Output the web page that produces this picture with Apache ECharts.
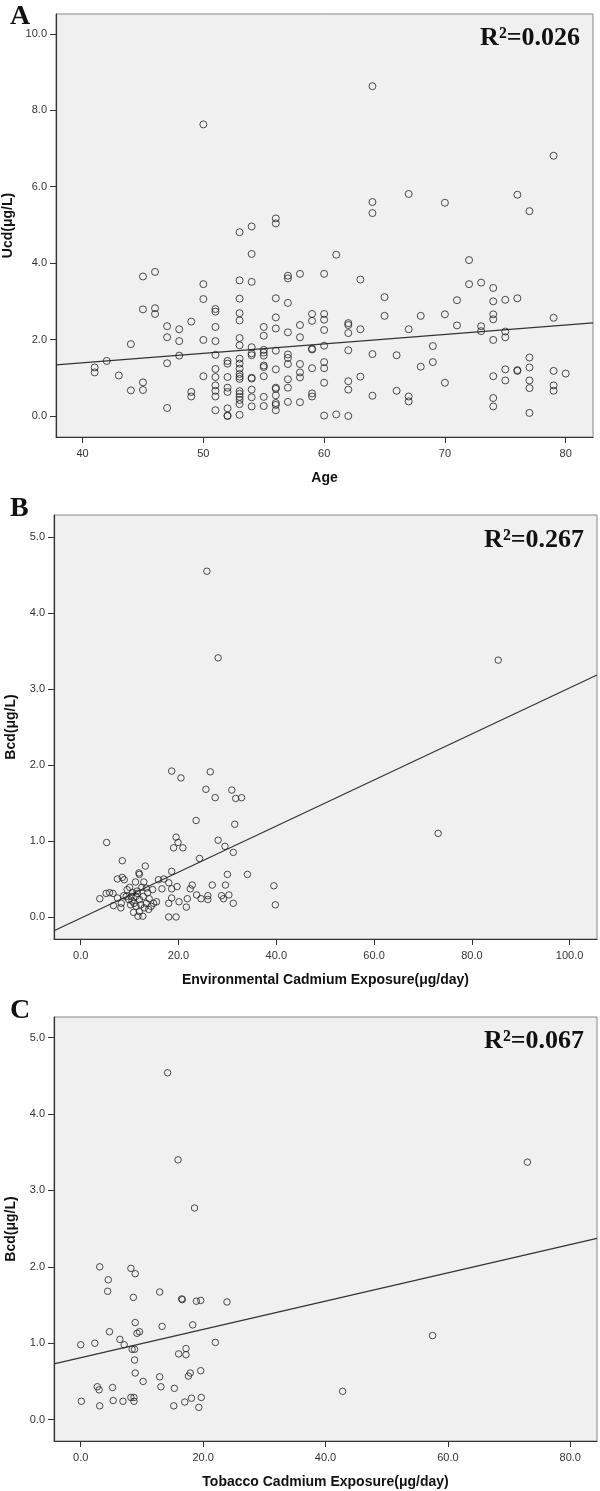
<!DOCTYPE html>
<html>
<head>
<meta charset="utf-8">
<script src="https://cdn.jsdelivr.net/npm/echarts@6/dist/echarts.min.js"></script>
<style>
  html, body { margin: 0; padding: 0; background: #fff; }
  #chart { width: 600px; height: 1491px; }
</style>
</head>
<body>
<div id="chart"></div>
<script>
// panel A: age vs urinary cadmium
const pointsA = [
  [41, 1.27], [41, 1.14], [42, 1.44], [43, 1.06], [44, 1.88], [44, 0.67],
  [45, 3.65], [45, 2.79], [45, 0.88], [45, 0.68],
  [46, 3.77], [46, 2.82], [46, 2.67],
  [47, 2.35], [47, 2.06], [47, 1.38], [47, 0.21],
  [48, 2.27], [48, 1.96], [48, 1.58],
  [49, 2.47], [49, 0.63], [49, 0.51],
  [50, 7.63], [50, 3.45], [50, 3.06], [50, 1.99], [50, 1.04],
  [51, 2.80], [51, 2.73], [51, 2.33], [51, 1.96], [51, 1.60], [51, 1.23], [51, 1.02], [51, 0.80], [51, 0.66], [51, 0.51], [51, 0.15],
  [52, 1.44], [52, 1.37], [52, 1.02], [52, 0.74], [52, 0.63], [52, 0.20], [52, 0.01], [52, 0.0],
  [53, 4.81], [53, 3.55], [53, 3.07], [53, 2.69], [53, 2.50], [53, 2.04], [53, 1.85], [53, 1.50], [53, 1.37], [53, 1.24],
  [53, 1.10], [53, 1.03], [53, 0.97], [53, 0.65], [53, 0.58], [53, 0.50], [53, 0.42], [53, 0.31], [53, 0.03],
  [54, 4.96], [54, 4.24], [54, 3.51], [54, 1.80], [54, 1.64], [54, 1.59], [54, 1.00], [54, 0.98], [54, 0.69], [54, 0.49], [54, 0.25],
  [55, 2.33], [55, 2.10], [55, 1.73], [55, 1.66], [55, 1.58], [55, 1.32], [55, 1.28], [55, 1.04], [55, 0.50], [55, 0.26],
  [56, 5.17], [56, 5.04], [56, 3.08], [56, 2.58], [56, 2.29], [56, 1.71], [56, 1.22], [56, 0.74], [56, 0.71], [56, 0.54], [56, 0.34], [56, 0.29], [56, 0.15],
  [57, 3.67], [57, 3.60], [57, 2.96], [57, 2.19], [57, 1.61], [57, 1.52], [57, 1.36], [57, 0.96], [57, 0.74], [57, 0.37],
  [58, 3.72], [58, 2.38], [58, 2.06], [58, 1.36], [58, 1.14], [58, 1.01], [58, 0.36],
  [59, 2.67], [59, 2.49], [59, 1.76], [59, 1.74], [59, 1.25], [59, 0.59], [59, 0.51],
  [60, 3.72], [60, 2.67], [60, 2.52], [60, 2.25], [60, 1.84], [60, 1.41], [60, 1.25], [60, 0.87], [60, 0.01],
  [61, 4.22], [61, 0.04],
  [62, 2.43], [62, 2.38], [62, 2.17], [62, 1.72], [62, 0.91], [62, 0.69], [62, 0.0],
  [63, 3.57], [63, 2.27], [63, 1.03],
  [64, 8.63], [64, 5.60], [64, 5.31], [64, 1.62], [64, 0.53],
  [65, 3.11], [65, 2.62], [66, 1.59], [66, 0.66],
  [67, 5.81], [67, 2.27], [67, 0.51], [67, 0.38],
  [68, 2.62], [68, 1.29], [69, 1.83], [69, 1.41],
  [70, 5.58], [70, 2.66], [70, 0.87], [71, 3.03], [71, 2.37], [72, 4.08], [72, 3.45],
  [73, 3.49], [73, 2.35], [73, 2.22],
  [74, 3.35], [74, 3.00], [74, 2.66], [74, 2.53], [74, 1.99], [74, 1.04], [74, 0.47], [74, 0.25],
  [75, 3.04], [75, 2.21], [75, 2.06], [75, 1.22], [75, 0.93],
  [76, 5.79], [76, 3.08], [76, 1.20], [76, 1.18],
  [77, 5.36], [77, 1.53], [77, 1.27], [77, 0.93], [77, 0.73], [77, 0.08],
  [79, 6.81], [79, 2.57], [79, 1.18], [79, 0.80], [79, 0.66], [80, 1.11]
]
// panel B: environmental exposure vs blood cadmium
const pointsB = [
  [25.8, 4.55], [28.1, 3.41], [85.4, 3.38], [73.1, 1.10],
  [18.6, 1.92], [20.5, 1.83], [26.5, 1.91], [25.6, 1.68], [27.5, 1.57], [30.9, 1.67], [31.7, 1.56], [32.9, 1.57],
  [23.6, 1.27], [31.5, 1.22], [5.3, 0.98], [19.5, 1.05], [19.0, 0.91], [19.9, 0.98], [20.9, 0.91], [28.1, 1.01],
  [29.5, 0.93], [31.2, 0.85], [24.3, 0.77], [8.5, 0.74], [13.2, 0.67], [18.6, 0.60], [30.0, 0.56], [34.1, 0.56],
  [7.5, 0.50], [8.5, 0.52], [8.9, 0.49], [11.9, 0.58], [12.0, 0.56], [11.2, 0.46], [12.9, 0.46], [15.9, 0.49],
  [17.0, 0.50], [18.0, 0.45], [16.6, 0.37], [19.7, 0.40], [18.6, 0.37], [14.7, 0.36], [22.8, 0.42], [22.4, 0.37],
  [26.9, 0.42], [29.6, 0.42], [23.7, 0.29], [26.0, 0.28], [28.8, 0.28], [30.3, 0.29], [24.6, 0.24], [26.0, 0.23],
  [29.2, 0.24], [31.2, 0.18], [39.5, 0.41], [39.8, 0.16], [18.6, 0.25], [18.0, 0.18], [20.1, 0.20], [21.8, 0.24],
  [21.6, 0.13], [18.0, 0.0], [19.5, 0.0], [15.5, 0.20], [14.9, 0.18],
  [3.9, 0.24], [5.2, 0.31], [5.9, 0.32], [6.6, 0.31], [6.7, 0.15], [7.5, 0.25], [8.3, 0.18], [8.2, 0.12],
  [8.8, 0.28], [9.5, 0.36], [10.0, 0.39], [10.3, 0.27], [9.8, 0.23], [10.2, 0.16], [10.9, 0.18], [10.6, 0.32],
  [11.3, 0.27], [11.5, 0.34], [10.8, 0.06], [11.7, 0.01], [12.7, 0.01], [12.0, 0.23], [12.3, 0.16], [12.8, 0.27],
  [13.4, 0.18], [13.7, 0.32], [14.0, 0.24], [14.4, 0.14], [13.9, 0.10], [13.4, 0.38], [12.5, 0.39], [11.6, 0.31],
  [9.3, 0.27], [10.5, 0.21], [11.3, 0.14], [13.0, 0.12], [12.0, 0.07]
]
// panel C: tobacco exposure vs blood cadmium
const pointsC = [
  [14.2, 4.54], [15.9, 3.40], [18.6, 2.77], [73.0, 3.37], [57.5, 1.10], [42.8, 0.37],
  [3.1, 2.00], [8.2, 1.98], [8.9, 1.91], [4.5, 1.83], [4.4, 1.68], [8.6, 1.60], [12.9, 1.67], [16.5, 1.58],
  [16.6, 1.57], [18.9, 1.55], [19.6, 1.56], [23.9, 1.54], [8.9, 1.27], [13.3, 1.22], [18.3, 1.24], [4.7, 1.15],
  [9.2, 1.13], [9.6, 1.15], [6.4, 1.05], [7.1, 0.98], [0.0, 0.98], [2.3, 1.00], [22.0, 1.01], [8.4, 0.92],
  [8.8, 0.92], [17.2, 0.93], [16.0, 0.86], [17.2, 0.85], [8.8, 0.78], [8.9, 0.61], [10.2, 0.50], [12.9, 0.56],
  [17.6, 0.57], [17.9, 0.61], [19.6, 0.64], [2.7, 0.43], [3.0, 0.39], [5.2, 0.42], [13.1, 0.43], [15.3, 0.41],
  [0.1, 0.24], [3.1, 0.18], [5.3, 0.25], [6.9, 0.24], [8.2, 0.29], [8.7, 0.29], [8.7, 0.24], [15.2, 0.18],
  [17.0, 0.23], [18.1, 0.28], [19.7, 0.29], [19.3, 0.16]
]

// fitted lines [intercept, slope]
const fitA = [0.406, 0.0247]
const fitB = [-0.015, 0.0303]
const fitC = [0.811, 0.0185]

const xTicksA = [40, 50, 60, 70, 80]
const yTicksA = [0, 2, 4, 6, 8, 10]
const xTicksB = [0, 20, 40, 60, 80, 100]
const xTicksC = [0, 20, 40, 60, 80]
const yTicksBC = [0, 1, 2, 3, 4, 5]

const r2Labels = ['R²=0.026', 'R²=0.267', 'R²=0.067']

const axisColor = '#333'
const labelFont = 'Liberation Sans, Arial, sans-serif'

const ranges = [
  { x: [37.8, 82.26], y: [-0.55, 10.52] },
  { x: [-5.47, 105.6], y: [-0.29, 5.29] },
  { x: [-4.37, 84.37], y: [-0.28, 5.27] }
]

function fitLine(fit, range) {
  return range.map(x => [x, fit[0] + fit[1] * x])
}

function xAxisOf(i, ticks, name, decimals) {
  return {
    type: 'value',
    gridIndex: i,
    min: ranges[i].x[0],
    max: ranges[i].x[1],
    name: name,
    nameLocation: 'middle',
    nameGap: 34,
    nameTextStyle: { fontFamily: labelFont, fontWeight: 'bold', fontSize: 14, color: '#111' },
    splitLine: { show: false },
    axisLine: { onZero: false, lineStyle: { color: axisColor, width: 1.2 } },
    axisTick: { customValues: ticks, length: 6, lineStyle: { color: axisColor } },
    axisLabel: {
      customValues: ticks,
      margin: 11,
      fontFamily: labelFont,
      fontSize: 11,
      color: '#333',
      formatter: v => v.toFixed(decimals)
    }
  }
}

function yAxisOf(i, ticks, name) {
  return {
    type: 'value',
    gridIndex: i,
    min: ranges[i].y[0],
    max: ranges[i].y[1],
    name: name,
    nameLocation: 'middle',
    nameGap: 36,
    nameTextStyle: { fontFamily: labelFont, fontWeight: 'bold', fontSize: 14, color: '#111' },
    splitLine: { show: false },
    axisLine: { onZero: false, lineStyle: { color: axisColor, width: 1.2 } },
    axisTick: { customValues: ticks, length: 6, lineStyle: { color: axisColor } },
    axisLabel: {
      customValues: ticks,
      margin: 9,
      fontFamily: labelFont,
      fontSize: 11,
      color: '#333',
      formatter: v => v.toFixed(1)
    }
  }
}

function scatterOf(i, data, size) {
  return {
    type: 'scatter',
    xAxisIndex: i,
    yAxisIndex: i,
    data: data,
    symbol: 'circle',
    symbolSize: size,
    itemStyle: { color: 'rgba(0,0,0,0)', borderColor: '#222', borderWidth: 1 },
    emphasis: { disabled: true },
    z: 3
  }
}

function lineOf(i, fit) {
  return {
    type: 'line',
    xAxisIndex: i,
    yAxisIndex: i,
    data: fitLine(fit, ranges[i].x),
    symbol: 'none',
    lineStyle: { color: '#333', width: 1.2 },
    clip: true,
    z: 2
  }
}

const panelTitle = (text, top) => ({
  text: text,
  left: 5,
  top: top,
  textStyle: { fontFamily: 'Liberation Serif, Times New Roman, serif', fontWeight: 'bold', fontSize: 28, color: '#111' }
})
const r2Title = (text, top, right) => ({
  text: text,
  right: right,
  top: top,
  textStyle: { fontFamily: 'Liberation Serif, Times New Roman, serif', fontWeight: 'bold', fontSize: 26, color: '#111' }
})

const gridBase = {
  show: true,
  backgroundColor: '#f0f0f0',
  borderColor: '#888',
  borderWidth: 1,
  containLabel: false,
  outerBoundsMode: 'none'
}

const chart = echarts.init(document.getElementById('chart'), null, { renderer: 'canvas' })
chart.setOption({
  animation: false,
  backgroundColor: '#fff',
  title: [
    panelTitle('A', -2), panelTitle('B', 490), panelTitle('C', 992),
    r2Title(r2Labels[0], 20, 15), r2Title(r2Labels[1], 522, 11), r2Title(r2Labels[2], 1023, 11)
  ],
  grid: [
    Object.assign({ left: 56, top: 14, width: 537, height: 423 }, gridBase),
    Object.assign({ left: 54, top: 515, width: 543, height: 424 }, gridBase),
    Object.assign({ left: 54, top: 1017, width: 543, height: 424 }, gridBase)
  ],
  xAxis: [
    xAxisOf(0, xTicksA, 'Age', 0),
    xAxisOf(1, xTicksB, 'Environmental Cadmium Exposure(μg/day)', 1),
    xAxisOf(2, xTicksC, 'Tobacco Cadmium Exposure(μg/day)', 1)
  ],
  yAxis: [
    yAxisOf(0, yTicksA, 'Ucd(μg/L)'),
    yAxisOf(1, yTicksBC, 'Bcd(μg/L)'),
    yAxisOf(2, yTicksBC, 'Bcd(μg/L)')
  ],
  series: [
    lineOf(0, fitA), scatterOf(0, pointsA, 7),
    lineOf(1, fitB), scatterOf(1, pointsB, 6.5),
    lineOf(2, fitC), scatterOf(2, pointsC, 6.5)
  ]
})
</script>
</body>
</html>
